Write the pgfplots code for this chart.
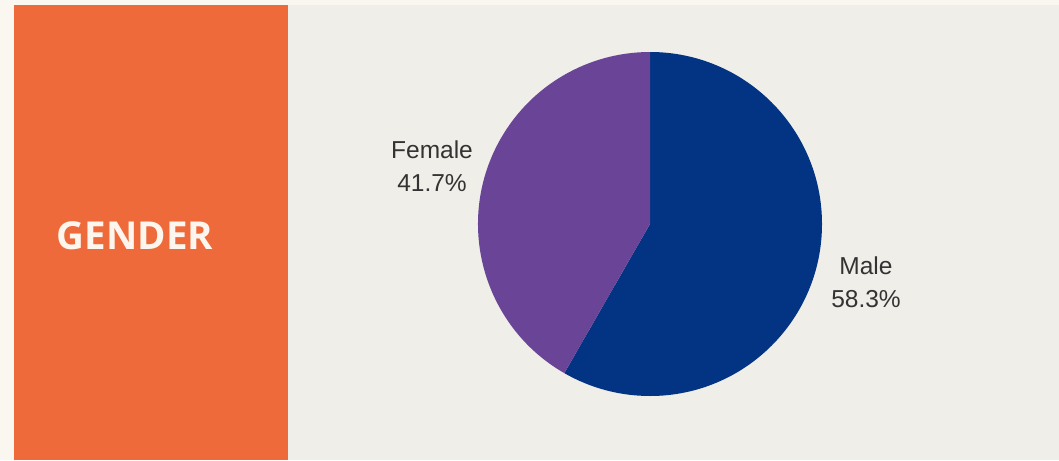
\documentclass[border=0pt]{standalone}
\usepackage{pgfplots}
\usepackage{pgfplotstable}
\usepackage{fontspec}
\pgfplotsset{compat=1.18}
\setmainfont{Liberation Sans}
\newfontfamily\gfont{Open Sans}
\definecolor{outerbg}{HTML}{FAF7F0}
\definecolor{innerbg}{HTML}{F0EEE8}
\definecolor{panel}{HTML}{EE6A3A}
\definecolor{malecol}{HTML}{033383}
\definecolor{femalecol}{HTML}{6A4597}
\definecolor{labcol}{HTML}{333333}
\definecolor{titlecol}{HTML}{FDF6EE}
\pgfplotstableread{
label value
Male 58.3
Female 41.7
}\piedata
\pgfplotstablegetelem{0}{value}\of\piedata \edef\maleval{\pgfplotsretval}
\pgfplotstablegetelem{1}{value}\of\piedata \edef\femaleval{\pgfplotsretval}
\pgfmathsetmacro\maleang{\maleval*3.6}
\pgfmathsetmacro\femaleang{\femaleval*3.6}
\begin{document}
\begin{tikzpicture}
\begin{axis}[
  scale only axis, width=1059pt, height=460pt,
  xmin=0, xmax=1059, ymin=0, ymax=460, y dir=reverse,
  hide axis, clip=false]
\fill[outerbg] (axis cs:0,0) rectangle (axis cs:1059,460);
\fill[innerbg] (axis cs:14,5) rectangle (axis cs:1059,460);
\fill[panel] (axis cs:14,5) rectangle (axis cs:288,460);
\node[text=titlecol, font=\gfont\bfseries\fontsize{38.5}{42}\selectfont] at (axis cs:135,236) {GENDER};
\fill[malecol] (axis cs:650,224) -- ++(90:172pt) arc[start angle=90, delta angle=-\maleang, radius=172pt] -- cycle;
\fill[femalecol] (axis cs:650,224) -- ++(90-\maleang:172pt) arc[start angle=90-\maleang, delta angle=-\femaleang, radius=172pt] -- cycle;
\node[text=labcol, font=\fontsize{24.5}{28}\selectfont, align=center] at (axis cs:432,166) {Female\\[5pt]\femaleval\%};
\node[text=labcol, font=\fontsize{24.5}{28}\selectfont, align=center] at (axis cs:866,282) {Male\\[5pt]\maleval\%};
\end{axis}
\end{tikzpicture}
\end{document}
